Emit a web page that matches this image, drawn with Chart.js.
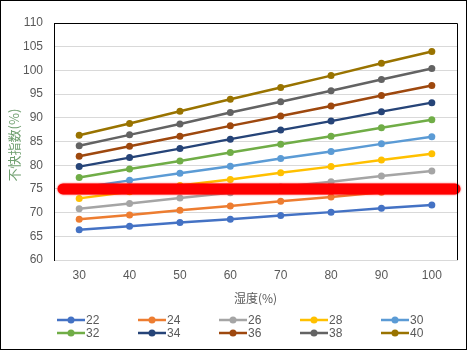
<!DOCTYPE html>
<html>
<head>
<meta charset="utf-8">
<script src="https://cdn.jsdelivr.net/npm/chart.js@4.4.1/dist/chart.umd.min.js"></script>
<style>
  html, body { margin: 0; padding: 0; background: #fff; }
  #wrap { width: 467px; height: 350px; }
</style>
</head>
<body>
<div id="wrap"><canvas id="chart" width="467" height="350"></canvas></div>
<script>
// humidity categories
const humidity = ['30', '40', '50', '60', '70', '80', '90', '100'];

// discomfort index per temperature
const t22 = [66.4, 67.1, 67.9, 68.6, 69.4, 70.1, 70.9, 71.6];
const t24 = [68.6, 69.5, 70.5, 71.4, 72.4, 73.3, 74.3, 75.2];
const t26 = [70.8, 71.9, 73.1, 74.2, 75.4, 76.5, 77.7, 78.8];
const t28 = [73.0, 74.4, 75.7, 77.0, 78.4, 79.7, 81.1, 82.4];
const t30 = [75.2, 76.8, 78.3, 79.8, 81.4, 82.9, 84.5, 86.0];
const t32 = [77.4, 79.2, 80.9, 82.7, 84.4, 86.1, 87.9, 89.6];
const t34 = [79.7, 81.6, 83.5, 85.5, 87.4, 89.3, 91.3, 93.2];
const t36 = [81.9, 84.0, 86.1, 88.3, 90.4, 92.5, 94.7, 96.8];
const t38 = [84.1, 86.4, 88.7, 91.1, 93.4, 95.7, 98.1, 100.4];
const t40 = [86.3, 88.8, 91.4, 93.9, 96.4, 98.9, 101.5, 104.0];

const temps = ['22', '24', '26', '28', '30', '32', '34', '36', '38', '40'];
const series = [t22, t24, t26, t28, t30, t32, t34, t36, t38, t40];
const colors = ['#4472C4', '#ED7D31', '#A5A5A5', '#FFC000', '#5B9BD5',
                '#70AD47', '#264478', '#9E480E', '#636363', '#997300'];

const yTicks = [60, 65, 70, 75, 80, 85, 90, 95, 100, 105, 110];
const markLine = 75;

const textColor = '#595959';
const fontFamily = "'Liberation Sans', Arial, sans-serif";

const datasets = series.map((data, i) => ({
    label: temps[i],
    data: data,
    borderColor: colors[i],
    backgroundColor: colors[i],
    borderWidth: 2.5,
    pointRadius: 3.5,
    pointHoverRadius: 3.5,
    pointBorderWidth: 0,
    tension: 0
}));

// frame, red line, titles and legend
const extras = {
    id: 'extras',
    afterDatasetsDraw(chart) {
        const ctx = chart.ctx;
        const a = chart.chartArea;
        const y = chart.scales.y.getPixelForValue(markLine);
        ctx.save();
        ctx.strokeStyle = '#FF0000';
        ctx.lineWidth = 11;
        ctx.lineCap = 'round';
        ctx.shadowColor = 'rgba(255,0,0,0.8)';
        ctx.shadowBlur = 2;
        ctx.beginPath();
        ctx.moveTo(a.left + 9, y);
        ctx.lineTo(a.right - 2, y);
        ctx.stroke();
        ctx.restore();
    },
    afterDraw(chart) {
        const ctx = chart.ctx;
        const a = chart.chartArea;
        ctx.save();
        // plot border top / right
        ctx.strokeStyle = '#000';
        ctx.lineWidth = 1;
        ctx.beginPath();
        ctx.moveTo(a.left, a.top + 0.5);
        ctx.lineTo(a.right + 0.5, a.top + 0.5);
        ctx.lineTo(a.right + 0.5, a.bottom);
        ctx.stroke();
        // outer frame
        ctx.strokeRect(0.5, 0.5, chart.width - 1, chart.height - 1);

        // axis titles
        ctx.fillStyle = textColor;
        ctx.font = "12px 'Noto Sans CJK JP', sans-serif";
        ctx.textAlign = 'center';
        ctx.textBaseline = 'middle';
        ctx.fillText('湿度(%)', (a.left + a.right) / 2, 298);

        ctx.save();
        ctx.translate(14, 145);
        ctx.rotate(-Math.PI / 2);
        ctx.font = "13px 'Noto Sans CJK JP', sans-serif";
        ctx.fillStyle = '#6f9f6f';
        ctx.fillText('不快指数(%)', 0, 0);
        ctx.restore();

        // legend, 5 columns x 2 rows
        ctx.font = '12px ' + fontFamily;
        ctx.textAlign = 'left';
        chart.data.datasets.forEach((ds, i) => {
            const col = i % 5;
            const row = Math.floor(i / 5);
            const x = 57 + col * 81;
            const ly = 320 + row * 13;
            ctx.strokeStyle = ds.borderColor;
            ctx.lineWidth = 2.5;
            ctx.beginPath();
            ctx.moveTo(x, ly);
            ctx.lineTo(x + 28, ly);
            ctx.stroke();
            ctx.fillStyle = ds.borderColor;
            ctx.beginPath();
            ctx.arc(x + 14, ly, 3.5, 0, Math.PI * 2);
            ctx.fill();
            ctx.fillStyle = textColor;
            ctx.fillText(ds.label, x + 29, ly + 1);
        });
        ctx.restore();
    }
};

new Chart(document.getElementById('chart'), {
    type: 'line',
    data: { labels: humidity, datasets: datasets },
    options: {
        responsive: false,
        animation: false,
        layout: { padding: { top: 23, right: 10, left: 0, bottom: 0 } },
        plugins: {
            legend: { display: false },
            tooltip: { enabled: false }
        },
        scales: {
            x: {
                offset: true,
                grid: { display: false, drawTicks: false },
                border: { color: '#d9d9d9' },
                ticks: { color: textColor, font: { size: 12, family: fontFamily }, padding: 8, maxRotation: 0 },
                afterFit(scale) { scale.height = 90; }
            },
            y: {
                min: 60,
                max: 110,
                afterBuildTicks(scale) { scale.ticks = yTicks.map(v => ({ value: v })); },
                grid: { color: '#d9d9d9', drawTicks: false },
                border: { color: '#000' },
                ticks: { color: textColor, font: { size: 12, family: fontFamily }, padding: 11 },
                afterFit(scale) { scale.width = 54; }
            }
        }
    },
    plugins: [extras]
});
</script>
</body>
</html>
